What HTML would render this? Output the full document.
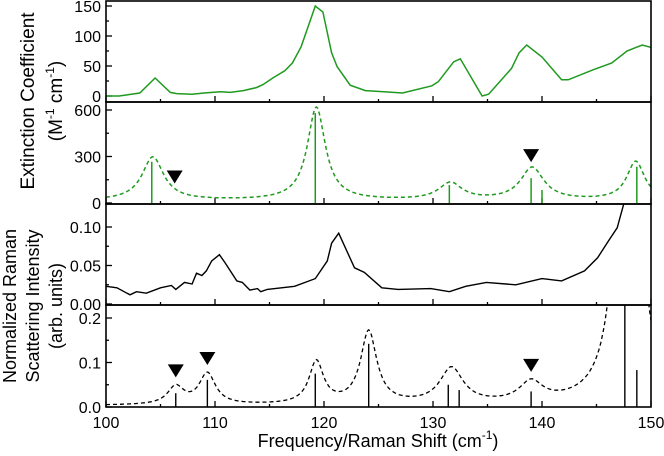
<!DOCTYPE html>
<html><head><meta charset="utf-8"><style>
html,body{margin:0;padding:0;background:#fff}
svg{display:block;font-family:"Liberation Sans",Arial,sans-serif}
</style></head><body>
<svg id="chart" width="664" height="456" viewBox="0 0 664 456" xmlns="http://www.w3.org/2000/svg">
<defs>
<clipPath id="c1"><rect x="106" y="1" width="545" height="101"/></clipPath>
<clipPath id="c2"><rect x="106" y="102" width="545" height="102"/></clipPath>
<clipPath id="c3"><rect x="106" y="204" width="545" height="101"/></clipPath>
<clipPath id="c4"><rect x="106" y="305" width="545" height="102"/></clipPath>
</defs>
<g id="g"></g>
<text transform="translate(34,101) rotate(-90)" text-anchor="middle" font-size="19">Extinction Coefficient</text>
<text transform="translate(62,101) rotate(-90)" text-anchor="middle" font-size="19">(M<tspan font-size="12" dy="-8">-1</tspan><tspan dy="8"> cm</tspan><tspan font-size="12" dy="-8">-1</tspan><tspan dy="8">)</tspan></text>
<text transform="translate(16,306) rotate(-90)" text-anchor="middle" font-size="18">Normalized Raman</text>
<text transform="translate(39,306) rotate(-90)" text-anchor="middle" font-size="18">Scattering Intensity</text>
<text transform="translate(62,306) rotate(-90)" text-anchor="middle" font-size="18">(arb. units)</text>
<text x="378" y="447" text-anchor="middle" font-size="18">Frequency/Raman Shift (cm<tspan font-size="12" dy="-8">-1</tspan><tspan dy="8">)</tspan></text>
</svg>
<script>
// Panel 1: measured extinction
const extX=[100,101.2,102,103.1,104.5,105.9,106.5,107.9,109,110.5,111.4,112.6,113.8,114.4,115.3,116.4,117.1,117.9,119.2,119.9,120.7,121.2,122.4,123.8,125.5,127.2,129.9,130.5,131.9,132.5,134.5,135.1,137.2,137.9,138.6,140.0,141.8,142.4,144.6,146.4,147.8,149.2,150];
const extY=[0,0,2,5,30,6,4,3,5,7,6,9,14,19,30,42,55,82,150,140,72,49,18,9,7,5,17,24,57,62,0,3,46,72,85,65,27,27,43,55,75,85,81];
// Panel 2: calculated IR
const irStickX=[104.2,119.2,131.5,139.0,140.0,148.7];
const irStickY=[266,580,116,160,84,234];
const irPeakC=[104.3,119.3,131.6,139.1,148.6];
const irPeakH=[280,600,110,210,250];
const irPeakW=[1.2,1.0,1.3,1.3,1.0];
const irBase=15;
const irMarks=[106.3,139.0];
// Panel 3: measured Raman
const ramX=[100,101,102.2,102.8,103.7,105,106,106.4,107.2,107.9,108.3,108.8,109.2,109.7,110.4,110.9,111.5,112,112.5,113.2,113.9,114.2,114.8,117.3,119.2,120.3,120.7,121.35,122.8,123.7,125.3,126.8,129.8,131.5,133,134.9,137.6,140,141.8,143.9,145.1,146.1,146.9,147.6];
const ramY=[0.023,0.021,0.012,0.016,0.014,0.021,0.024,0.019,0.028,0.026,0.040,0.037,0.043,0.056,0.064,0.054,0.041,0.030,0.028,0.018,0.020,0.016,0.019,0.023,0.033,0.056,0.079,0.092,0.047,0.041,0.021,0.019,0.020,0.016,0.023,0.028,0.025,0.033,0.030,0.043,0.060,0.082,0.099,0.135];
// Panel 4: calculated Raman
const rcStickX=[106.4,109.3,119.2,124.1,131.4,132.4,139.0,147.6,148.7];
const rcStickY=[0.031,0.061,0.075,0.142,0.05,0.038,0.035,0.5,0.083];
const rcPeakC=[106.4,109.3,119.3,124.1,131.7,139.0,147.9];
const rcPeakH=[0.04,0.07,0.095,0.163,0.08,0.045,1.5];
const rcPeakW=[0.9,0.9,0.8,0.9,1.3,1.3,0.8];
const rcBase=0.003;
const rcMarks=[106.4,109.3,139.0];
const xTicks=[100,110,120,130,140,150];

const NS='http://www.w3.org/2000/svg';
const G=document.getElementById('g');
function mk(tag,attrs,parent){const e=document.createElementNS(NS,tag);for(const k in attrs)e.setAttribute(k,attrs[k]);(parent||G).appendChild(e);return e;}
const X=v=>106+(v-100)*545/50;
const panels=[
 {top:1,bot:102,min:0,max:150,ticks:[0,50,100,150],minor:25,lab:v=>String(v),clip:'c1'},
 {top:102,bot:204,min:0,max:600,ticks:[0,300,600],minor:150,lab:v=>String(v),clip:'c2'},
 {top:204,bot:305,min:0,max:0.10,ticks:[0,0.05,0.10],minor:0.025,lab:v=>v.toFixed(2),clip:'c3'},
 {top:305,bot:407,min:0,max:0.2,ticks:[0,0.1,0.2],minor:0.05,lab:v=>v.toFixed(1),clip:'c4'}
];
const py=[[96,6],[203,110],[304,227],[407,318]];
panels.forEach((p,i)=>{p.Y=v=>py[i][0]+(v-p.min)/(p.max-p.min)*(py[i][1]-py[i][0]);});

function lor(x,C,H,W,b){let s=b;for(let i=0;i<C.length;i++){const d=(x-C[i])/W[i];s+=H[i]/(1+d*d);}return s;}
function pathFrom(xs,ys,Y){return xs.map((x,i)=>(i?'L':'M')+X(x).toFixed(1)+' '+Y(ys[i]).toFixed(1)).join(' ');}
function curve(C,H,W,b,Y){let d='';for(let x=100;x<=150.001;x+=0.1){d+=(d?'L':'M')+X(x).toFixed(1)+' '+Y(lor(x,C,H,W,b)).toFixed(1);}return d;}
function tri(x,yc,name){const t=mk('path',{d:`M${X(x)-8} ${yc-6} L${X(x)+8} ${yc-6} L${X(x)} ${yc+7} Z`,fill:'#000'});

}

panels.forEach((p,i)=>{
 const ax=mk('g',{});
 
 
 for(let v=100;v<=150;v+=5){const len=(v%10===0)?6:3;mk('line',{x1:X(v),x2:X(v),y1:p.bot,y2:p.bot-len,stroke:'#000','stroke-width':1.3},ax);}
 for(let v=p.min;v<=p.max+1e-9;v+=p.minor){const maj=p.ticks.some(t=>Math.abs(t-v)<1e-9);mk('line',{x1:106,x2:106+(maj?6:3),y1:p.Y(v),y2:p.Y(v),stroke:'#000','stroke-width':1.3},ax);}
 p.ticks.forEach(v=>{const t=mk('text',{x:101,y:p.Y(v)+6,'text-anchor':'end','font-size':16},ax);t.textContent=p.lab(v);
 
 });
});
xTicks.forEach(v=>{const t=mk('text',{x:X(v),y:428,'text-anchor':'middle','font-size':16});t.textContent=v;

});

const l1=mk('path',{d:pathFrom(extX,extY,panels[0].Y),fill:'none',stroke:'#1f9a1f','stroke-width':1.5,'clip-path':'url(#c1)'});


irStickX.forEach((x,i)=>{const s=mk('line',{x1:X(x),x2:X(x),y1:panels[1].Y(0),y2:panels[1].Y(irStickY[i]),stroke:'#1f9a1f','stroke-width':1.5,'clip-path':'url(#c2)'});

});
const l2=mk('path',{d:curve(irPeakC,irPeakH,irPeakW,irBase,panels[1].Y),fill:'none',stroke:'#1f9a1f','stroke-width':1.5,'stroke-dasharray':'4 3','clip-path':'url(#c2)'});


irMarks.forEach(x=>{const v=lor(x,irPeakC,irPeakH,irPeakW,irBase);tri(x,panels[1].Y(v)-12,'ir-marker');});
const l3=mk('path',{d:pathFrom(ramX,ramY,panels[2].Y),fill:'none',stroke:'#000','stroke-width':1.4,'clip-path':'url(#c3)'});


rcStickX.forEach((x,i)=>{const s=mk('line',{x1:X(x),x2:X(x),y1:panels[3].Y(0),y2:panels[3].Y(rcStickY[i]),stroke:'#000','stroke-width':1.4,'clip-path':'url(#c4)'});

});
const l4=mk('path',{d:curve(rcPeakC,rcPeakH,rcPeakW,rcBase,panels[3].Y),fill:'none',stroke:'#000','stroke-width':1.3,'stroke-dasharray':'4 3','clip-path':'url(#c4)'});


rcMarks.forEach(x=>{const v=lor(x,rcPeakC,rcPeakH,rcPeakW,rcBase);tri(x,panels[3].Y(v)-14,'raman-marker');});

panels.forEach((p,i)=>{const r=mk('rect',{x:106,y:p.top,width:545,height:p.bot-p.top,fill:'none',stroke:'#000','stroke-width':1.6});

});
</script>
</body></html>
